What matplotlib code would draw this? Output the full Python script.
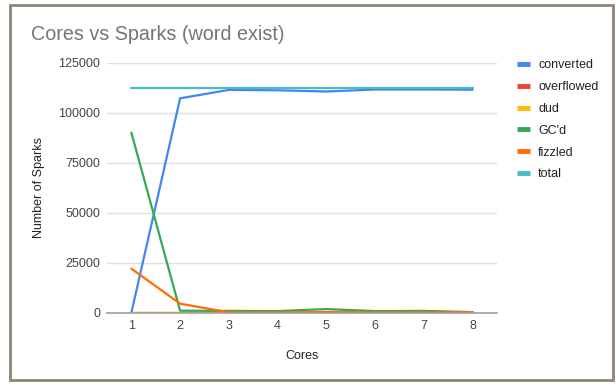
import matplotlib
matplotlib.use("Agg")
import matplotlib.pyplot as plt
from matplotlib.patches import Rectangle

plt.rcParams['font.family'] = ['Liberation Sans', 'DejaVu Sans']

cores = [1, 2, 3, 4, 5, 6, 7, 8]
converted = [0, 107200, 111400, 111200, 110600, 111600, 111600, 111500]
overflowed = [0, 0, 0, 0, 0, 0, 0, 0]
dud = [0, 0, 0, 0, 0, 0, 0, 0]
gcd = [90000, 1000, 900, 800, 1800, 800, 900, 300]
fizzled = [22000, 4500, 200, 200, 300, 200, 200, 300]
total = [112500, 112500, 112500, 112500, 112500, 112500, 112500, 112500]

series_names = ["converted", "overflowed", "dud", "GC'd", "fizzled", "total"]
series_values = [converted, overflowed, dud, gcd, fizzled, total]
series_colors = ["#4285F4", "#EA4335", "#FBBC04", "#34A853", "#FF6D01", "#46BDC6"]
y_ticks = [0, 25000, 50000, 75000, 100000, 125000]

fig = plt.figure(figsize=(6.16, 3.85), dpi=100)
fig.patch.set_facecolor("white")

# outer frame
fig.patches.append(Rectangle((10 / 616, 5 / 385), 603 / 616, 375 / 385,
                             transform=fig.transFigure, fill=False,
                             edgecolor="#8c8474", linewidth=2.0, zorder=0))

ax = fig.add_axes([107 / 616, (385 - 312.7) / 385, 390 / 616, 250 / 385])

for name, vals, col in zip(series_names, series_values, series_colors):
    ax.plot(cores, vals, color=col, linewidth=1.6, label=name,
            solid_joinstyle="round", solid_capstyle="round")

ax.set_xlim(0.5, 8.5)
ax.set_ylim(0, 125000)
ax.set_yticks(y_ticks)
ax.set_yticklabels([str(v) for v in y_ticks])
ax.set_xticks(cores)
ax.set_xticklabels([str(c) for c in cores])

ax.grid(axis="y", color="#e0e0e0", linewidth=1.0)
ax.set_axisbelow(True)
for side in ["top", "right", "left"]:
    ax.spines[side].set_visible(False)
ax.spines["bottom"].set_color("#9e9e9e")
ax.spines["bottom"].set_linewidth(1.2)
ax.tick_params(axis="both", length=0, labelsize=9, labelcolor="#444444")
ax.tick_params(axis="y", pad=5)
ax.tick_params(axis="x", pad=5)

ax.set_xlabel("Cores", fontsize=9, color="#222222", labelpad=13)
ax.set_ylabel("Number of Sparks", fontsize=9, color="#222222", labelpad=9.5)

fig.text(31 / 616, 1 - 34 / 385, "Cores vs Sparks (word exist)", fontsize=14.2,
         color="#757575", va="center", ha="left")

leg = ax.legend(loc="upper left", bbox_to_anchor=(512 / 616, 1 - 54.5 / 385),
                bbox_transform=fig.transFigure, frameon=False, fontsize=9,
                handlelength=1.0, handletextpad=0.7, labelspacing=0.78,
                borderaxespad=0)
for h in leg.get_lines():
    h.set_linewidth(3.5)
    h.set_solid_capstyle("butt")
for t in leg.get_texts():
    t.set_color("#222222")

fig.savefig("out.png", dpi=100)
